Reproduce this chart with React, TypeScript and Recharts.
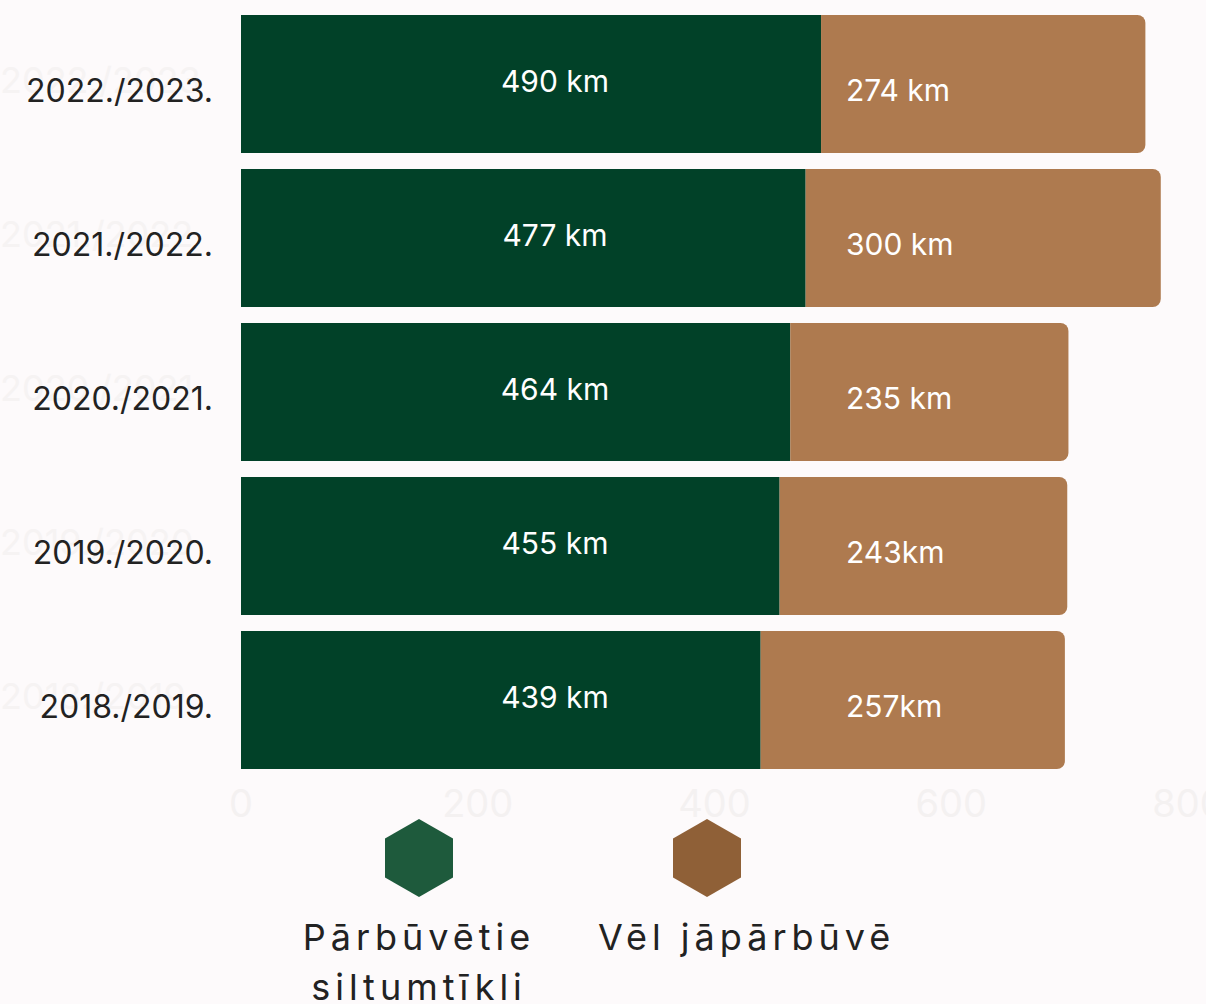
import React from 'react';
import { BarChart, Bar, XAxis, YAxis, LabelList, Legend } from 'recharts';

const periods = ['2022./2023.', '2021./2022.', '2020./2021.', '2019./2020.', '2018./2019.'];
const rebuilt = [490, 477, 464, 455, 439];
const remaining = [274, 300, 235, 243, 257];
const rebuiltLabels = ['490 km', '477 km', '464 km', '455 km', '439 km'];
const remainingLabels = ['274 km', '300 km', '235 km', '243km', '257km'];
const xTicks = [0, 200, 400, 600, 800];

const seriesNames = ['Pārbūvētie siltumtīkli', 'Vēl jāpārbūvē'];
const legendColors = ['#1e5a3c', '#8f6037'];

const data = periods.map((p, i) => ({
    period: p,
    rebuilt: rebuilt[i],
    remaining: remaining[i],
    rebuiltText: rebuiltLabels[i],
    remainingText: remainingLabels[i],
}));

const BG = '#fdfafb';
const FONT = 'Inter, "Open Sans", sans-serif';

const YTick = (props: any) => {
    const { x, y, payload } = props;
    return (
        <g>
            <text x={0} y={y - 4} fontSize={36} fill="#f6f3f3" fontFamily={FONT} dominantBaseline="central">
                {payload.value.slice(0, -1)}
            </text>
            <text x={x - 20} y={y + 6} fontSize={32} fill="#222" fontFamily={FONT} textAnchor="end" dominantBaseline="central">
                {payload.value}
            </text>
        </g>
    );
};

const RebuiltLabel = (props: any) => {
    const { x, y, height, value } = props;
    return (
        <text x={x + 314} y={y + height / 2 - 3} fill="#fff" fontSize={30} fontFamily={FONT} textAnchor="middle" dominantBaseline="central">
            {value}
        </text>
    );
};

const RemainingLabel = (props: any) => {
    const { x, y, height, value } = props;
    return (
        <text x={x + 605} y={y + height / 2 + 6} fill="#fff" fontSize={30} fontFamily={FONT} textAnchor="start" dominantBaseline="central">
            {value}
        </text>
    );
};

const Hexagon = ({ color }: { color: string }) => (
    <svg width={68} height={78} viewBox="0 0 68 78">
        <polygon points="34,0 68,19.5 68,58.5 34,78 0,58.5 0,19.5" fill={color} />
    </svg>
);

const LegendContent = () => (
    <div style={{ position: 'relative', width: 1206, height: 190 }}>
        <div style={{ position: 'absolute', left: 385, top: 5 }}>
            <Hexagon color={legendColors[0]} />
        </div>
        <div style={{ position: 'absolute', left: 673, top: 5 }}>
            <Hexagon color={legendColors[1]} />
        </div>
        <div
            style={{
                position: 'absolute', left: 284, top: 98, width: 270, textAlign: 'center',
                fontFamily: FONT, fontSize: 36, letterSpacing: 5, lineHeight: '50px', color: '#222',
            }}
        >
            {seriesNames[0]}
        </div>
        <div
            style={{
                position: 'absolute', left: 598, top: 98, width: 340, textAlign: 'left',
                fontFamily: FONT, fontSize: 36, letterSpacing: 5, lineHeight: '50px', color: '#222', whiteSpace: 'nowrap',
            }}
        >
            {seriesNames[1]}
        </div>
    </div>
);

export default function App() {
    return (
        <div style={{ position: 'absolute', left: 0, top: 0, width: 1206, height: 1004, background: BG, overflow: 'hidden' }}>
            <BarChart
                width={1206}
                height={1004}
                data={data}
                layout="vertical"
                margin={{ top: 7, right: 18, bottom: 0, left: 0 }}
                barCategoryGap={8}
            >
                <XAxis
                    type="number"
                    domain={[0, 800]}
                    ticks={xTicks}
                    axisLine={false}
                    tickLine={false}
                    height={37}
                    tickMargin={7}
                    tick={{ fill: '#f4f1f1', fontSize: 38, fontFamily: FONT }}
                    interval={0}
                />
                <YAxis type="category" dataKey="period" width={241} axisLine={false} tickLine={false} tick={<YTick />} />
                <Legend verticalAlign="bottom" align="left" content={<LegendContent />} />
                <Bar dataKey="rebuilt" stackId="a" fill="#014128" isAnimationActive={false}>
                    <LabelList dataKey="rebuiltText" content={<RebuiltLabel />} />
                    <LabelList dataKey="remainingText" content={<RemainingLabel />} />
                </Bar>
                <Bar dataKey="remaining" stackId="a" fill="#ae7a4f" radius={[0, 8, 8, 0]} isAnimationActive={false} />
            </BarChart>
        </div>
    );
}
